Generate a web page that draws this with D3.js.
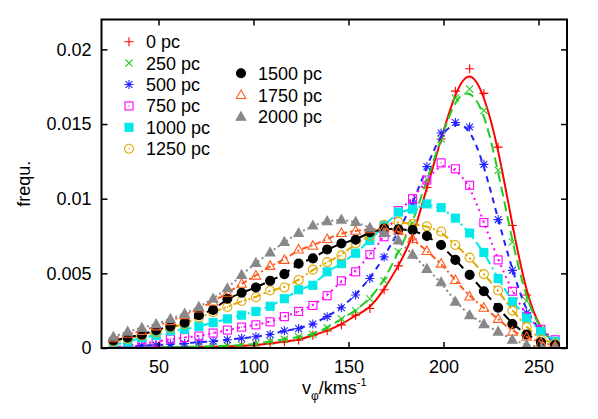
<!DOCTYPE html>
<html>
<head>
<meta charset="utf-8">
<script src="https://cdnjs.cloudflare.com/ajax/libs/d3/7.8.5/d3.min.js"></script>
<style>
  body { margin: 0; background: #fff; }
  text { font-family: "Liberation Sans", Arial, sans-serif; }
</style>
</head>
<body>
<div id="chart"></div>
<script>
// bin centres, km/s
var vBins = [26.25, 33.75, 41.25, 48.75, 56.25, 63.75, 71.25, 78.75, 86.25, 93.75,
  101.25, 108.75, 116.25, 123.75, 131.25, 138.75, 146.25, 153.75, 161.25, 168.75,
  176.25, 183.75, 191.25, 198.75, 206.25, 213.75, 221.25, 228.75, 236.25, 243.75,
  251.25, 258.75];

// frequencies, in units of 1e-3
var f0    = [0.01, 0.01, 0.02, 0.03, 0.04, 0.05, 0.06, 0.08, 0.1, 0.14, 0.2, 0.3, 0.42, 0.53, 0.85, 1.15, 1.55, 2.2, 2.65, 3.9, 5.5, 7.3, 10.75, 14.0, 17.2, 18.7, 17.05, 13.45, 8.2, 3.55, 1.15, 0.27];
var f250  = [0.02, 0.03, 0.04, 0.05, 0.06, 0.08, 0.1, 0.12, 0.15, 0.2, 0.27, 0.45, 0.58, 0.75, 0.9, 1.35, 1.95, 2.5, 3.3, 4.5, 6.45, 8.35, 11.3, 14.0, 16.75, 17.35, 15.9, 11.9, 7.1, 3.15, 1.2, 0.3];
var f500  = [0.05, 0.1, 0.15, 0.2, 0.25, 0.3, 0.4, 0.45, 0.55, 0.65, 0.75, 0.9, 1.15, 1.3, 1.6, 2.1, 2.7, 3.55, 4.65, 6.1, 7.8, 9.65, 12.15, 14.4, 15.1, 14.8, 12.3, 8.6, 5.2, 2.35, 1.1, 0.35];
var f750  = [0.05, 0.15, 0.3, 0.4, 0.6, 0.7, 0.8, 1.0, 1.2, 1.4, 1.55, 1.75, 2.1, 2.45, 2.85, 3.5, 4.5, 5.1, 6.25, 7.45, 9.2, 10.0, 11.25, 12.4, 12.0, 10.9, 8.4, 5.9, 3.8, 2.1, 1.25, 0.55];
var f1000 = [0.2, 0.4, 0.7, 0.85, 1.15, 1.25, 1.45, 1.7, 1.95, 2.2, 2.45, 2.8, 3.3, 3.9, 4.2, 5.1, 5.65, 6.35, 7.2, 8.2, 9.1, 9.3, 9.65, 9.4, 8.7, 7.7, 6.4, 4.65, 3.1, 2.0, 1.1, 0.45];
var f1250 = [0.4, 0.6, 0.85, 1.05, 1.35, 1.6, 2.05, 2.4, 2.75, 3.15, 3.4, 3.85, 4.05, 4.55, 5.25, 5.75, 6.2, 7.0, 7.5, 8.25, 8.45, 8.3, 8.15, 7.8, 6.9, 6.05, 4.95, 3.85, 2.5, 1.4, 0.55, 0.3];
var f1500 = [0.5, 0.7, 0.9, 1.2, 1.45, 1.7, 2.2, 2.55, 3.3, 3.7, 4.05, 4.5, 4.95, 5.65, 6.0, 6.6, 7.0, 7.25, 7.75, 8.0, 7.95, 7.9, 7.5, 6.9, 5.9, 4.9, 3.8, 2.7, 1.6, 0.9, 0.38, 0.2];
var f1750 = [0.65, 0.95, 1.15, 1.45, 1.8, 2.2, 2.65, 3.1, 3.7, 4.3, 4.85, 5.5, 5.9, 6.6, 6.85, 7.3, 7.7, 7.85, 7.95, 8.0, 7.85, 7.3, 6.5, 5.65, 4.55, 3.45, 2.7, 1.95, 1.1, 0.75, 0.35, 0.15];
var f2000 = [0.75, 1.1, 1.35, 1.6, 1.95, 2.3, 2.75, 3.3, 4.0, 4.9, 5.7, 6.4, 7.1, 7.7, 8.2, 8.5, 8.6, 8.45, 8.05, 7.7, 7.2, 6.25, 5.3, 4.4, 3.1, 2.2, 1.6, 1.1, 0.55, 0.2, 0.08, 0.03];

var labels = ["0 pc", "250 pc", "500 pc", "750 pc", "1000 pc", "1250 pc", "1500 pc", "1750 pc", "2000 pc"];
var xTicks = [50, 100, 150, 200, 250];
var yTicks = [0, 0.005, 0.01, 0.015, 0.02];

var series = [
  {vals: f0,    color: "#ff0000", dash: null,            sym: "plus"},
  {vals: f250,  color: "#22cc22", dash: "10,5",          sym: "cross"},
  {vals: f500,  color: "#2222ff", dash: "6,5",           sym: "star"},
  {vals: f750,  color: "#ff00ff", dash: "2,4",           sym: "boxDot"},
  {vals: f1000, color: "#00e8e8", dash: "8,4,2,4",       sym: "boxFill"},
  {vals: f1250, color: "#e0a800", dash: "8,3,2,3,2,3",   sym: "circDot"},
  {vals: f1500, color: "#000000", dash: "9,5",           sym: "circFill"},
  {vals: f1750, color: "#ff5a1e", dash: "6,3,2,3",       sym: "triOpen"},
  {vals: f2000, color: "#888888", dash: "2,3",           sym: "triFill"}
];

var W = 598, H = 419;
var margin = {top: 19.5, right: 31, bottom: 71, left: 101.5};

var svg = d3.select("#chart").append("svg")
    .attr("width", W)
    .attr("height", H);

var x = d3.scaleLinear().domain([20, 265]).range([margin.left, W - margin.right]);
var y = d3.scaleLinear().domain([0, 0.022]).range([H - margin.bottom, margin.top]);

var plotLeft = x.range()[0], plotRight = x.range()[1],
    plotTop = y.range()[1], plotBottom = y.range()[0];

svg.append("defs").append("clipPath").attr("id", "clip")
  .append("rect")
    .attr("x", plotLeft).attr("y", plotTop)
    .attr("width", plotRight - plotLeft)
    .attr("height", plotBottom - plotTop);

function drawSymbol(g, type, color) {
  var s = 4.5;
  if (type == "plus") {
    g.append("path").attr("d", "M" + -s + ",0H" + s + "M0," + -s + "V" + s)
      .attr("stroke", color).attr("stroke-width", 1.1).attr("fill", "none");
  } else if (type == "cross") {
    var c = 3.6;
    g.append("path").attr("d", "M" + -c + "," + -c + "L" + c + "," + c + "M" + -c + "," + c + "L" + c + "," + -c)
      .attr("stroke", color).attr("stroke-width", 1.1).attr("fill", "none");
  } else if (type == "star") {
    var c2 = 3.4;
    g.append("path").attr("d", "M" + -s + ",0H" + s + "M0," + -s + "V" + s +
        "M" + -c2 + "," + -c2 + "L" + c2 + "," + c2 + "M" + -c2 + "," + c2 + "L" + c2 + "," + -c2)
      .attr("stroke", color).attr("stroke-width", 1.1).attr("fill", "none");
  } else if (type == "boxDot" || type == "boxFill") {
    g.append("rect").attr("x", -4).attr("y", -4).attr("width", 8).attr("height", 8)
      .attr("fill", type == "boxFill" ? color : "none")
      .attr("stroke", color).attr("stroke-width", 1.1);
    if (type == "boxDot") g.append("circle").attr("r", 0.7).attr("fill", color);
  } else if (type == "circDot" || type == "circFill") {
    g.append("circle").attr("r", 4.5)
      .attr("fill", type == "circFill" ? color : "none")
      .attr("stroke", color).attr("stroke-width", 1.1);
    if (type == "circDot") g.append("circle").attr("r", 0.7).attr("fill", color);
  } else if (type == "triOpen" || type == "triFill") {
    g.append("path").attr("d", "M0,-5L4.8,3.5L-4.8,3.5Z")
      .attr("fill", type == "triFill" ? color : "none")
      .attr("stroke", color).attr("stroke-width", 1.1);
  }
}

var line = d3.line()
    .x(function(d, i) { return x(vBins[i]); })
    .y(function(d) { return y(d * 1e-3); })
    .curve(d3.curveBasis);

var curves = svg.append("g").attr("clip-path", "url(#clip)");

series.forEach(function(s) {
  var g = curves.append("g");
  g.append("path")
      .datum(s.vals)
      .attr("d", line)
      .attr("fill", "none")
      .attr("stroke", s.color)
      .attr("stroke-width", 2)
      .attr("stroke-dasharray", s.dash);
  g.selectAll("g.pt")
    .data(s.vals)
    .enter().append("g")
      .attr("class", "pt")
      .attr("transform", function(d, i) { return "translate(" + x(vBins[i]) + "," + y(d * 1e-3) + ")"; })
      .each(function() { drawSymbol(d3.select(this), s.sym, s.color); });
});

// axes with inward ticks on all sides
svg.append("g")
    .attr("transform", "translate(0," + plotBottom + ")")
    .call(d3.axisBottom(x).tickValues(xTicks).tickSizeInner(-6).tickSizeOuter(0).tickPadding(12))
    .call(function(g) { g.select(".domain").remove(); });
svg.append("g")
    .attr("transform", "translate(0," + plotTop + ")")
    .call(d3.axisTop(x).tickValues(xTicks).tickSizeInner(-6).tickSizeOuter(0).tickFormat(""))
    .call(function(g) { g.select(".domain").remove(); });
svg.append("g")
    .attr("transform", "translate(" + plotLeft + ",0)")
    .call(d3.axisLeft(y).tickValues(yTicks).tickSizeInner(-6).tickSizeOuter(0).tickPadding(10)
      .tickFormat(function(d) { return d == 0 ? "0" : String(+d.toFixed(3)); }))
    .call(function(g) { g.select(".domain").remove(); });
svg.append("g")
    .attr("transform", "translate(" + plotRight + ",0)")
    .call(d3.axisRight(y).tickValues(yTicks).tickSizeInner(-6).tickSizeOuter(0).tickFormat(""))
    .call(function(g) { g.select(".domain").remove(); });

svg.selectAll(".tick line").attr("stroke", "#000").attr("stroke-width", 1.5);
svg.selectAll(".tick text").attr("font-size", 18).attr("fill", "#000")
    .style("font-family", "'Liberation Sans', Arial, sans-serif");

svg.append("rect")
    .attr("x", plotLeft).attr("y", plotTop)
    .attr("width", plotRight - plotLeft).attr("height", plotBottom - plotTop)
    .attr("fill", "none").attr("stroke", "#000").attr("stroke-width", 2);

// axis titles
svg.append("text")
    .attr("transform", "translate(30," + ((plotTop + plotBottom) / 2) + ") rotate(-90)")
    .attr("text-anchor", "middle")
    .attr("font-size", 18)
    .text("frequ.");

var xt = svg.append("text")
    .attr("x", (plotLeft + plotRight) / 2)
    .attr("y", 394)
    .attr("text-anchor", "middle")
    .attr("font-size", 18);
xt.append("tspan").text("v");
xt.append("tspan").attr("font-size", 12).attr("dy", 6).text("\u03c6");
xt.append("tspan").attr("dy", -6).text("/kms");
xt.append("tspan").attr("font-size", 11).attr("dy", -8).text("-1");

// legend, two columns
var legPos = [
  [129, 41.7], [129, 63.1], [129, 84.5], [129, 105.9], [129, 127.3], [129, 148.7],
  [241, 73.3], [241, 95], [241, 116.7]
];
var legend = svg.append("g");
series.forEach(function(s, i) {
  var g = legend.append("g").attr("transform", "translate(" + legPos[i][0] + "," + legPos[i][1] + ")");
  drawSymbol(g, s.sym, s.color);
  g.append("text")
      .attr("x", 17)
      .attr("y", 6.5)
      .attr("font-size", 18)
      .text(labels[i]);
});
</script>
</body>
</html>
